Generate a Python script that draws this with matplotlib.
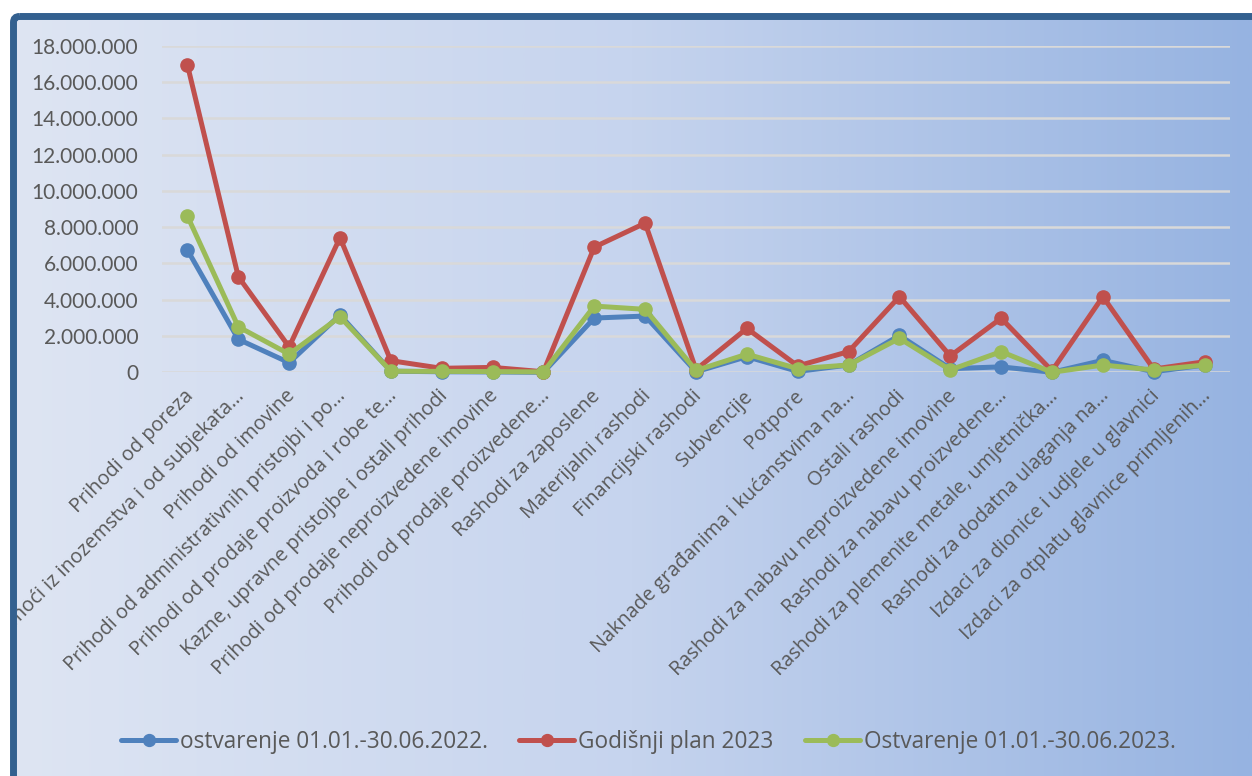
import numpy as np
import matplotlib.pyplot as plt
from matplotlib.patches import FancyBboxPatch
from matplotlib.colors import LinearSegmentedColormap
from matplotlib.transforms import ScaledTranslation, Bbox

categories = [
    "Prihodi od poreza",
    "Pomoći iz inozemstva i od subjekata…",
    "Prihodi od imovine",
    "Prihodi od administrativnih pristojbi i po…",
    "Prihodi od prodaje proizvoda i robe te…",
    "Kazne, upravne pristojbe i ostali prihodi",
    "Prihodi od prodaje neproizvedene imovine",
    "Prihodi od prodaje proizvedene…",
    "Rashodi za zaposlene",
    "Materijalni rashodi",
    "Financijski rashodi",
    "Subvencije",
    "Potpore",
    "Naknade građanima i kućanstvima na…",
    "Ostali rashodi",
    "Rashodi za nabavu neproizvedene imovine",
    "Rashodi za nabavu proizvedene…",
    "Rashodi za plemenite metale, umjetnička…",
    "Rashodi za dodatna ulaganja na…",
    "Izdaci za dionice i udjele u glavnici",
    "Izdaci za otplatu glavnice primljenih…",
]

ostvarenje_2022 = [6740000, 1820000, 530000, 3160000, 60000, 30000, 20000, 0,
                   2990000, 3100000, 30000, 860000, 50000, 400000, 2030000,
                   200000, 300000, 0, 660000, 30000, 400000]
plan_2023 = [16940000, 5270000, 1400000, 7420000, 640000, 220000, 270000, 30000,
             6900000, 8220000, 150000, 2420000, 350000, 1140000, 4170000,
             900000, 2980000, 80000, 4170000, 180000, 580000]
ostvarenje_2023 = [8610000, 2510000, 1000000, 3060000, 60000, 50000, 40000, 20000,
                   3650000, 3470000, 100000, 1000000, 200000, 400000, 1870000,
                   130000, 1140000, 0, 400000, 130000, 400000]

series_names = ["ostvarenje 01.01.-30.06.2022.", "Godišnji plan 2023",
                "Ostvarenje 01.01.-30.06.2023."]
series_colors = ["#4f81bd", "#c0504d", "#9bbb59"]

plt.rcParams['font.family'] = ['Lato', 'DejaVu Sans']
text_color = "#595959"

W, H = 1252, 776
fig = plt.figure(figsize=(W / 100, H / 100), dpi=100, facecolor="white")

# background panel with gradient and dark blue frame
bg = fig.add_axes([0, 0, 1, 1])
bg.set_xlim(0, W)
bg.set_ylim(H, 0)
bg.axis("off")
cmap = LinearSegmentedColormap.from_list("bg", ["#dee5f3", "#c6d4ee", "#96b3e1"])
grad = np.linspace(0, 1, 512).reshape(1, -1)
frame = FancyBboxPatch((13.5, 16.5), W + 20, H + 20,
                       boxstyle="round,pad=0,rounding_size=6",
                       facecolor="none", edgecolor="#33608f", linewidth=5.0,
                       zorder=3)
img = bg.imshow(grad, cmap=cmap, aspect="auto", extent=(13, W, H, 16), zorder=1)
bg.add_patch(frame)
img.set_clip_path(frame)

# chart area
ax = fig.add_axes([162 / W, 1 - 372.3 / H, (1230 - 162) / W, 326.6 / H])
ax.patch.set_alpha(0)
x = np.arange(len(categories))
lines = []
for vals, name, col in zip([ostvarenje_2022, plan_2023, ostvarenje_2023],
                           series_names, series_colors):
    ln, = ax.plot(x, vals, color=col, linewidth=3.6, marker="o", markersize=9.5,
                  label=name, solid_capstyle="round", clip_on=False, zorder=3)
    lines.append(ln)

ax.set_xlim(-0.5, len(categories) - 0.5)
ax.set_ylim(0, 18000000)
ax.set_yticks(np.arange(0, 18000001, 2000000))
ax.set_yticklabels([f"{v:,.0f}".replace(",", ".") for v in np.arange(0, 18000001, 2000000)],
                   fontsize=15, color=text_color)
ax.grid(axis="y", color="#d9d9d9", linewidth=1.8)
ax.set_axisbelow(True)
for s in ax.spines.values():
    s.set_visible(False)
ax.tick_params(axis="both", length=0)
ax.tick_params(axis="y", pad=17)

ax.set_xticks(x)
ax.set_xticklabels(categories, rotation=45, ha="right", va="center",
                   rotation_mode="anchor", fontsize=14.3, color=text_color,
                   family=["Open Sans", "DejaVu Sans"])
ax.tick_params(axis="x", pad=15)
offset = ScaledTranslation(3 / 100, 0, fig.dpi_scale_trans)
clip = Bbox.from_extents(17, 0, W, H - 20)
for lab in ax.get_xticklabels():
    lab.set_transform(lab.get_transform() + offset)
    lab.set_clip_box(clip)
    lab.set_clip_on(True)

# legend entries placed one by one, like the spreadsheet layout
legend_x = [121, 519, 805]
for ln, lx in zip(lines, legend_x):
    leg = fig.legend(handles=[ln], loc="center left",
                     bbox_to_anchor=(lx / W, 1 - 742 / H),
                     frameon=False, labelcolor=text_color,
                     prop={"family": ["Open Sans", "DejaVu Sans"], "size": 16.3},
                     handlelength=2.45, handletextpad=0.15, borderpad=0,
                     borderaxespad=0, markerscale=0.9)

fig.savefig("out.png", dpi=100, facecolor="white")
